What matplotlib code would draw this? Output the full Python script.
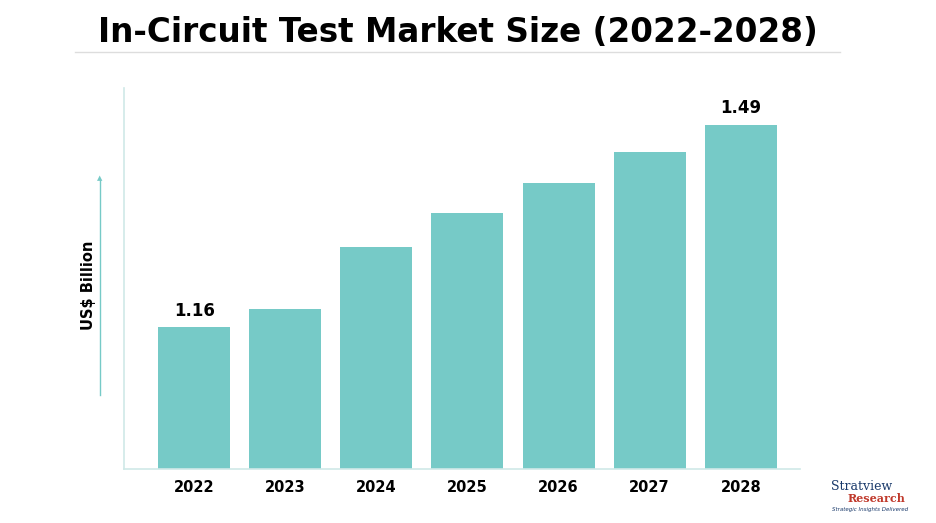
import matplotlib.pyplot as plt

years = ["2022", "2023", "2024", "2025", "2026", "2027", "2028"]
values = [1.16, 1.189, 1.291, 1.346, 1.395, 1.446, 1.49]
labels = {0: "1.16", 6: "1.49"}

bar_color = "#76cac7"
W, H = 936, 523
fig = plt.figure(figsize=(W / 100, H / 100), dpi=100)

# axes: spine at x=124, bottom at y=469, top at y=88
ax = fig.add_axes([124 / W, 1 - 469 / H, (800 - 124) / W, (469 - 88) / H])
x = range(len(years))
ax.bar(x, values, width=0.79, color=bar_color, zorder=2)
ax.set_xlim(-0.77, 6.65)
ax.set_ylim(0.928, 1.55)
for i, t in labels.items():
    ax.text(i, values[i] + 0.012, t, ha="center", va="bottom",
            fontsize=12, fontweight="bold")
ax.set_xticks(list(x))
ax.set_xticklabels(years, fontsize=10.5, fontweight="bold")
ax.tick_params(axis="x", length=0, pad=8)
ax.set_yticks([])
for s in ["top", "right"]:
    ax.spines[s].set_visible(False)
for s in ["left", "bottom"]:
    ax.spines[s].set_color("#cfe9e8")
    ax.spines[s].set_linewidth(1.2)

# title and underline
fig.text(458 / W, 1 - 32 / H, "In-Circuit Test Market Size (2022-2028)",
         ha="center", va="center", fontsize=23.5, fontweight="bold")
fig.add_artist(plt.Line2D([75 / W, 840 / W], [1 - 52 / H, 1 - 52 / H],
                          color="#dddddd", lw=1))

# y label with arrow
fig.text(88 / W, 1 - 285 / H, "US$ Billion", rotation=90, ha="center",
         va="center", fontsize=10.5, fontweight="bold")
fig.add_artist(plt.Line2D([100 / W, 100 / W], [1 - 395 / H, 1 - 180 / H],
                          color=bar_color, lw=1))
fig.text(100 / W, 1 - 178 / H, "▲", color=bar_color, ha="center",
         va="center", fontsize=5)

# logo text
fig.text(862 / W, 1 - 487 / H, "Stratview", ha="center", va="center",
         fontsize=9, family="serif", color="#1a3a6b")
fig.text(876 / W, 1 - 499 / H, "Research", ha="center", va="center",
         fontsize=8, family="serif", color="#c0392b", fontweight="bold")
fig.text(870 / W, 1 - 510 / H, "Strategic Insights Delivered", ha="center",
         va="center", fontsize=4, style="italic", color="#1a3a6b")

fig.savefig("out.png", dpi=100)
